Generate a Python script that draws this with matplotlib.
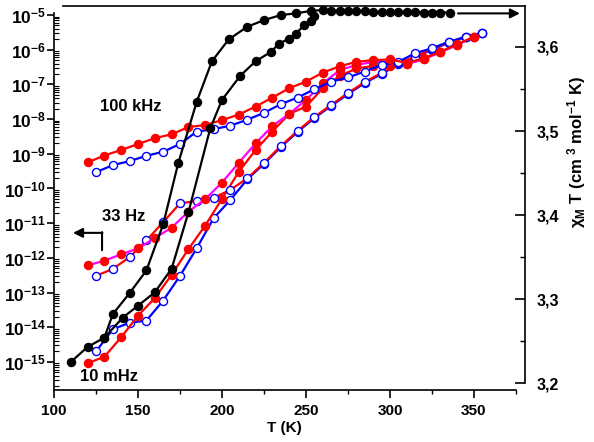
import numpy as np
import matplotlib.pyplot as plt
from matplotlib.ticker import MultipleLocator, LogLocator, FuncFormatter, NullFormatter

# fonts: bold Arial-like everywhere
plt.rcParams['font.family'] = 'Liberation Sans'
plt.rcParams['font.weight'] = 'bold'
plt.rcParams['mathtext.fontset'] = 'custom'
plt.rcParams['mathtext.rm'] = 'Liberation Sans:bold'
plt.rcParams['mathtext.bf'] = 'Liberation Sans:bold'
plt.rcParams['mathtext.it'] = 'Liberation Sans:bold'

# temperatures (K)
T_filled = [120, 130, 140, 150, 160, 170, 180, 190, 200, 210, 220, 230,
            240, 250, 260, 270, 280, 290, 300, 310, 320, 330, 340, 350]
T_open = [125, 135, 145, 155, 165, 175, 185, 195, 205, 215, 225, 235,
          245, 255, 265, 275, 285, 295, 305, 315, 325, 335, 345, 355]

# left axis, log10 of the values
log_100k_f = [-9.25, -9.05, -8.89, -8.72, -8.55, -8.44, -8.23, -8.17, -8.03, -7.87, -7.64, -7.38,
              -7.11, -6.92, -6.66, -6.48, -6.35, -6.30, -6.28, -6.38, -6.25, -6.06, -5.84, -5.63]
log_100k_o = [-9.53, -9.33, -9.21, -9.06, -8.94, -8.72, -8.36, -8.29, -8.19, -8.02, -7.82, -7.57,
              -7.38, -7.14, -6.92, -6.80, -6.63, -6.44, -6.35, -6.10, -5.96, -5.77, -5.63, -5.51]
log_33_f = [-12.22, -12.08, -11.90, -11.73, -11.43, -11.13, -10.67, -10.31, -9.83, -9.26, -8.70, -8.20,
            -7.85, -7.45, -6.97, -6.59, -6.44, -6.35, -6.33, -6.41, -6.27, -6.07, -5.86, -5.63]
log_33_o = [-12.52, -12.32, -11.98, -11.50, -10.97, -10.43, -10.36, -10.27, -10.04, -9.71, -9.26, -8.78,
            -8.34, -7.94, -7.59, -7.25, -6.93, -6.67, -6.39, -6.20, -5.98, -5.79, -5.63, -5.52]
log_10m_f = [-15.04, -14.85, -14.29, -13.67, -13.16, -12.49, -11.75, -11.07, -10.30, -9.52, -8.89, -8.36,
             -7.85, -7.64, -7.11, -6.76, -6.54, -6.47, -6.47, -6.41, -6.27, -6.07, -5.86, -5.63]
log_10m_o = [-14.70, -14.06, -13.87, -13.81, -13.23, -12.52, -11.72, -10.86, -10.33, -9.74, -9.29, -8.81,
             -8.37, -7.97, -7.62, -7.28, -6.96, -6.70, -6.42, -6.22, -6.00, -5.80, -5.64, -5.53]

# right axis, chi_M T
T_cool = [110, 120, 130, 135, 145, 155, 165, 174, 185, 194, 204, 215, 225, 235, 244, 253,
          260, 265, 270, 275, 280, 285, 290, 295, 300, 305, 310, 315, 320, 325, 330, 336]
chi_cool = [3.225, 3.243, 3.254, 3.282, 3.307, 3.334, 3.389, 3.462, 3.535, 3.583, 3.609, 3.624,
            3.632, 3.638, 3.640, 3.643, 3.644, 3.643, 3.643, 3.643, 3.643, 3.643, 3.642, 3.642,
            3.642, 3.642, 3.642, 3.642, 3.641, 3.641, 3.641, 3.641]
T_heat = [130, 141, 150, 160, 170, 180, 193, 200, 211, 220, 229, 234, 240, 244, 249, 253, 255]
chi_heat = [3.254, 3.278, 3.292, 3.308, 3.336, 3.403, 3.503, 3.537, 3.566, 3.583, 3.594, 3.604,
            3.610, 3.616, 3.626, 3.631, 3.637]

fig = plt.figure(figsize=(5.94, 4.42), dpi=100)
ax = fig.add_axes([54/594, 52/442, 471/594, 384/442])
ax.set_yscale('log')

ms = 5.8
lw = 1.6
open_style = dict(marker='o', ms=ms, mfc='white', mec='blue', mew=1.0)
fill_style = dict(marker='o', ms=ms, mfc='red', mec='red')

# 10 mHz
ax.plot(T_open, 10**np.array(log_10m_o), color='blue', lw=lw, **open_style)
ax.plot(T_filled, 10**np.array(log_10m_f), color='red', lw=lw, **fill_style)
# 33 Hz
ax.plot(T_open, 10**np.array(log_33_o), color='red', lw=lw, **open_style)
ax.plot(T_filled, 10**np.array(log_33_f), color='magenta', lw=lw, **fill_style)
# 100 kHz
ax.plot(T_open, 10**np.array(log_100k_o), color='blue', lw=lw, **open_style)
ax.plot(T_filled, 10**np.array(log_100k_f), color='red', lw=lw, **fill_style)

ax.set_xlim(100, 380.4)
ax.set_ylim(10**-15.81, 10**-4.74)
ax.spines['bottom'].set_bounds(100, 375)
ax.spines['left'].set_bounds(10**-15.81, 10**-4.95)
ax.spines['top'].set_bounds(105.4, 380.4)
ax.spines['right'].set_visible(False)
for s in ['bottom', 'left', 'top']:
    ax.spines[s].set_linewidth(1.2)

ax.xaxis.set_major_locator(MultipleLocator(50))
ax.xaxis.set_minor_locator(MultipleLocator(25))
ax.yaxis.set_major_locator(LogLocator(base=10, numticks=20))
ax.yaxis.set_minor_locator(LogLocator(base=10, subs=np.arange(2, 10), numticks=20))
ax.yaxis.set_minor_formatter(NullFormatter())
ax.yaxis.set_major_formatter(FuncFormatter(lambda v, p: r'$\mathbf{10^{%d}}$' % round(np.log10(v))))
ax.tick_params(axis='x', which='major', direction='out', length=6, width=1.2, labelsize=11, pad=4)
ax.tick_params(axis='x', which='minor', direction='out', length=3, width=1.0)
ax.tick_params(axis='y', which='major', direction='out', length=5, width=1.2, labelsize=12.5, pad=1)
ax.tick_params(axis='y', which='minor', direction='in', length=3.5, width=0.8)
ax.tick_params(top=False)

ax.set_xlabel('T (K)', fontsize=11, fontweight='bold')
ax.xaxis.set_label_coords(0.49, -0.08)

# frequency labels and left arrow
ax.text(127.4, 10**-7.65, '100 kHz', fontsize=12, fontweight='bold', va='center')
ax.text(128.6, 10**-10.82, '33 Hz', fontsize=12, fontweight='bold', va='center')
ax.text(115.5, 10**-15.43, '10 mHz', fontsize=12, fontweight='bold', va='center')
ax.annotate('', xy=(111.3, 10**-11.28), xytext=(128.8, 10**-11.28),
            arrowprops=dict(arrowstyle='-|>', color='black', lw=1.5, mutation_scale=14,
                            shrinkA=0, shrinkB=0))
ax.annotate('', xy=(128.6, 10**-11.78), xytext=(128.6, 10**-11.26),
            arrowprops=dict(arrowstyle='-', color='black', lw=1.5, shrinkA=0, shrinkB=0))

# right axis: chi_M T
ax2 = ax.twinx()
ax2.plot(T_cool, chi_cool, color='black', lw=lw, marker='o', ms=ms, mfc='black', mec='black')
ax2.plot(T_heat, chi_heat, color='black', lw=lw, marker='o', ms=ms, mfc='black', mec='black')
ax2.set_ylim(3.1917, 3.6488)
for s in ['bottom', 'left', 'top']:
    ax2.spines[s].set_visible(False)
ax2.spines['right'].set_bounds(3.2, 3.6488)
ax2.spines['right'].set_linewidth(1.2)
ax2.yaxis.set_major_locator(MultipleLocator(0.1))
ax2.yaxis.set_minor_locator(MultipleLocator(0.05))
ax2.yaxis.set_major_formatter(FuncFormatter(lambda v, p: f'{v:.1f}'.replace('.', ',')))
ax2.tick_params(axis='y', which='major', direction='in', length=7, width=1.2, labelsize=11.5, pad=8)
ax2.tick_params(axis='y', which='minor', direction='in', length=3.5, width=1.0)
ax2.set_ylabel(r'$\mathbf{\chi_M\ T\ (cm^{\ 3}\ mol^{-1}\ K)}$', fontsize=12)
ax2.yaxis.set_label_coords(1.085, 0.62)
ax2.annotate('', xy=(377.4, 3.640), xytext=(340.5, 3.640),
             arrowprops=dict(arrowstyle='-|>', color='black', lw=1.5, mutation_scale=14,
                             shrinkA=0, shrinkB=0))

fig.savefig('out.png', dpi=100)
